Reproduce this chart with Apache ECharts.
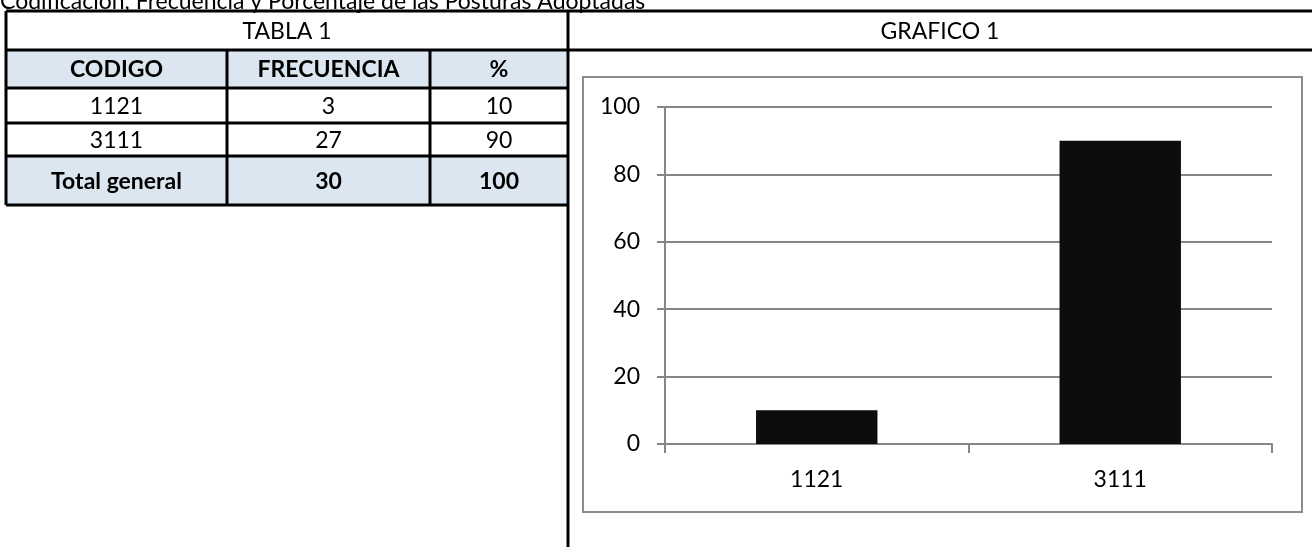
<!DOCTYPE html>
<html style="height: 100%">
    <head>
        <meta charset="utf-8">
    </head>
    <body style="height: 100%; margin: 0; background: #fff">
        <div id="container" style="height: 547px; width: 1312px;"></div>
        <script type="text/javascript" src="https://cdn.jsdelivr.net/npm/echarts@6/dist/echarts.min.js"></script>
        <script type="text/javascript">
// data
const titleText = 'Codificación, Frecuencia y Porcentaje de las Posturas Adoptadas';
const tableTitle = 'TABLA 1';
const chartTitle = 'GRAFICO 1';
const headers = ['CODIGO', 'FRECUENCIA', '%'];
const codes = ['1121', '3111'];
const frequencies = [3, 27];
const percents = [10, 90];
const totalLabel = 'Total general';
const totalFrequency = 30;
const totalPercent = 100;

var dom = document.getElementById('container');
var myChart = echarts.init(dom);

const font = 'Lato, "Open Sans", sans-serif';
const fontSize = 23;
const colX = [6, 227, 430, 568];
const rowY = [11, 50, 88, 123, 156, 205];
const fillBlue = '#dce6f1';

var graphics = [];

function line(x1, y1, x2, y2, color, w) {
    graphics.push({
        type: 'line', z: 20,
        shape: { x1: x1, y1: y1, x2: x2, y2: y2 },
        style: { stroke: color || '#000', lineWidth: w || 3 }
    });
}
function text(t, x, y, bold, align) {
    graphics.push({
        type: 'text', z: 30, x: x, y: y,
        style: {
            text: t, fill: '#000',
            font: (bold ? 'bold ' : '') + fontSize + 'px ' + font,
            align: align || 'center', verticalAlign: 'middle'
        }
    });
}

// page title (clipped at top like the source)
graphics.push({
    type: 'text', z: 30, x: 0, y: 2,
    style: { text: titleText, fill: '#000', font: fontSize + 'px ' + font, align: 'left', verticalAlign: 'middle' }
});

// blue rows
[[rowY[1], rowY[2]], [rowY[4], rowY[5]]].forEach(function (r) {
    graphics.push({
        type: 'rect', z: 5,
        shape: { x: colX[0], y: r[0], width: colX[3] - colX[0], height: r[1] - r[0] },
        style: { fill: fillBlue }
    });
});

// table rows content
var rows = [headers];
codes.forEach(function (c, i) {
    rows.push([c, String(frequencies[i]), String(percents[i])]);
});
rows.push([totalLabel, String(totalFrequency), String(totalPercent)]);

text(tableTitle, (colX[0] + colX[3]) / 2, (rowY[0] + rowY[1]) / 2 + 1, false);
text(chartTitle, (colX[3] + 1312) / 2, (rowY[0] + rowY[1]) / 2 + 1, false);
rows.forEach(function (r, ri) {
    var bold = ri === 0 || ri === rows.length - 1;
    var cy = (rowY[ri + 1] + rowY[ri + 2]) / 2 + 1;
    r.forEach(function (cell, ci) {
        text(cell, (colX[ci] + colX[ci + 1]) / 2, cy, bold);
    });
});

// table lines
line(colX[0], rowY[0], 1312, rowY[0]);
line(colX[0], rowY[1], 1312, rowY[1]);
for (var i = 2; i < rowY.length; i++) {
    line(colX[0], rowY[i], colX[3], rowY[i]);
}
line(colX[0], rowY[0], colX[0], rowY[5]);
line(colX[1], rowY[1], colX[1], rowY[5]);
line(colX[2], rowY[1], colX[2], rowY[5]);
line(colX[3], rowY[0], colX[3], 547);

// chart frame
graphics.push({
    type: 'rect', z: 1,
    shape: { x: 583, y: 77, width: 719, height: 435 },
    style: { fill: 'none', stroke: '#8c8c8c', lineWidth: 2 }
});

var option = {
    animation: false,
    textStyle: { fontFamily: font },
    graphic: { elements: graphics },
    grid: { left: 665, right: 40, top: 107, bottom: 103, containLabel: false },
    xAxis: {
        type: 'category',
        data: codes,
        axisLine: { lineStyle: { color: '#868686', width: 2 } },
        axisTick: { show: true, length: 9, lineStyle: { color: '#868686', width: 2 } },
        axisLabel: { color: '#000', fontSize: fontSize, margin: 24, fontFamily: font }
    },
    yAxis: {
        type: 'value',
        min: 0, max: 100, interval: 20,
        axisLine: { show: true, lineStyle: { color: '#868686', width: 2 } },
        axisTick: { show: true, length: 8, lineStyle: { color: '#868686', width: 2 } },
        splitLine: { lineStyle: { color: '#868686', width: 2 } },
        axisLabel: { color: '#000', fontSize: fontSize, margin: 25, fontFamily: font }
    },
    series: [{
        type: 'bar',
        data: percents,
        barCategoryGap: '60%',
        itemStyle: { color: '#0d0d0d' }
    }]
};
myChart.setOption(option);
        </script>
    </body>
</html>
